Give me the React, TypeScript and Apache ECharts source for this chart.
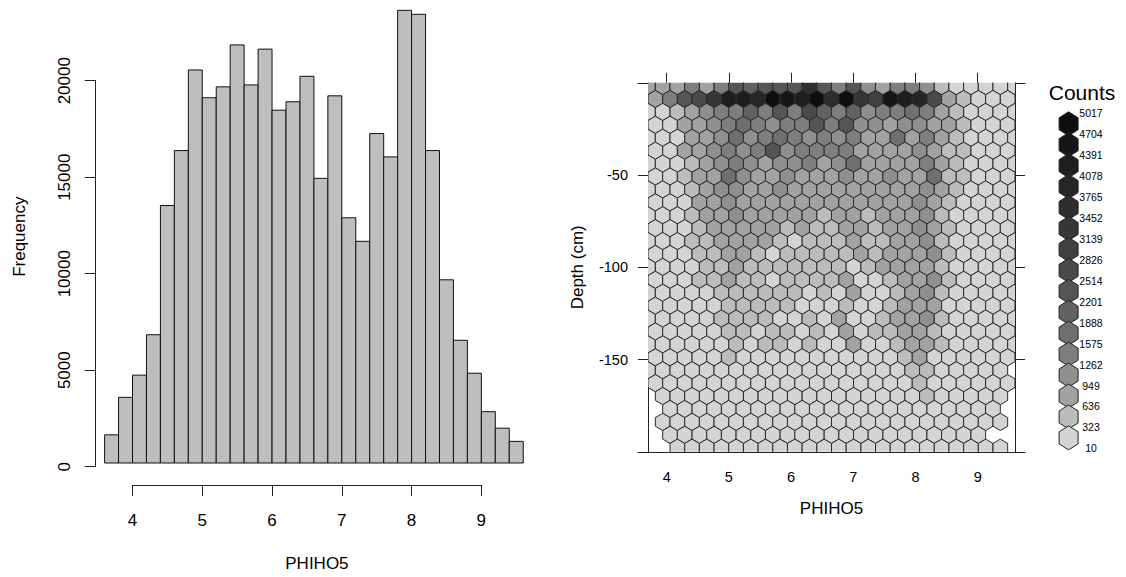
import React, { useEffect, useRef } from "react";
import * as echarts from "echarts";

// ---------- Histogram data ----------
const binStart = [3.6, 3.8, 4.0, 4.2, 4.4, 4.6, 4.8, 5.0, 5.2, 5.4, 5.6, 5.8, 6.0, 6.2, 6.4, 6.6, 6.8, 7.0, 7.2, 7.4, 7.6, 7.8, 8.0, 8.2, 8.4, 8.6, 8.8, 9.0, 9.2, 9.4];
const binWidth = 0.2;
const frequency = [1470, 3430, 4590, 6700, 13450, 16320, 20530, 19080, 19650, 21840, 19750, 21620, 18430, 18870, 20200, 14870, 19180, 12810, 11580, 17210, 15990, 23645, 23440, 16320, 9570, 6410, 4690, 2680, 1820, 1130];
const histXTicks = [4, 5, 6, 7, 8, 9];
const histYTicks = [0, 5000, 10000, 15000, 20000];

// ---------- Hexbin data ----------
const hexXTicks = [4, 5, 6, 7, 8, 9];
const hexYTicks = [-150, -100, -50];
const countBreaks = [10, 323, 636, 949, 1262, 1575, 1888, 2201, 2514, 2826, 3139, 3452, 3765, 4078, 4391, 4704, 5017];
const levelColors = ["#d4d4d4", "#bcbcbc", "#a2a2a2", "#8f8f8f", "#7e7e7e", "#6f6f6f", "#626262", "#555555", "#4a4a4a", "#404040", "#373737", "#2e2e2e", "#262626", "#1e1e1e", "#161616", "#0e0e0e"];
// hexbin lattice (x bounds / number of bins, row centres)
const xBounds = [3.7, 9.6];
const xBins = 25;
const rowY0 = -197.8;
const rowStep = 7.0;
// count level of each hexagon, rows listed from top (depth ~ -2) to bottom (depth ~ -198); -1 = empty
const hexLevels: number[][] = [
  [2, 2, 2, 4, 2, 4, 7, 6, 7, 7, 7, 11, 7, 4, 7, 3, 2, 4, 4, 3, 1, 0, 0, 0, 0, 0],
  [2, 4, 7, 8, 10, 13, 13, 12, 15, 14, 13, 15, 11, 15, 10, 9, 14, 13, 12, 8, 2, 1, 0, 0, 0],
  [0, 0, 1, 2, 3, 4, 4, 6, 4, 7, 4, 8, 6, 4, 6, 3, 4, 4, 5, 4, 2, 1, 0, 0, 0, 0],
  [0, 0, 2, 2, 3, 4, 5, 4, 3, 4, 4, 7, 4, 7, 3, 3, 2, 3, 3, 2, 2, 1, 0, 0, 0],
  [0, 0, 0, 2, 2, 3, 5, 3, 4, 5, 4, 3, 4, 3, 4, 2, 2, 5, 2, 4, 2, 1, 0, 0, 0, 0],
  [0, 0, 2, 2, 3, 4, 3, 4, 7, 3, 4, 4, 4, 4, 2, 2, 2, 2, 3, 2, 1, 1, 0, 0, 0],
  [0, 0, 0, 1, 2, 3, 4, 3, 2, 3, 3, 4, 2, 3, 5, 2, 2, 2, 2, 4, 2, 1, 0, 0, 0, 0],
  [0, 0, 1, 2, 2, 5, 3, 2, 2, 3, 2, 2, 2, 3, 2, 2, 3, 2, 2, 5, 1, 1, 0, 0, 0],
  [0, 0, 0, 1, 2, 3, 3, 2, 2, 3, 2, 2, 2, 2, 2, 2, 2, 2, 2, 3, 2, 1, 0, 0, 0, 0],
  [0, 0, 0, 2, 2, 3, 2, 2, 2, 2, 2, 2, 2, 2, 2, 2, 2, 2, 3, 2, 1, 0, 0, 0, 0],
  [0, 0, 0, 1, 2, 2, 3, 2, 2, 2, 2, 2, 1, 2, 2, 1, 2, 2, 2, 3, 1, 0, 0, 0, 0, 0],
  [0, 0, 0, 1, 2, 2, 2, 2, 2, 1, 2, 1, 1, 2, 2, 1, 2, 2, 3, 2, 1, 0, 0, 0, 0],
  [0, 0, 0, 1, 1, 2, 2, 2, 2, 1, 0, 1, 1, 1, 2, 1, 1, 2, 2, 3, 1, 0, 0, 0, 0, 0],
  [0, 0, 0, 1, 1, 2, 2, 1, 0, 1, 1, 1, 1, 1, 2, 1, 2, 2, 2, 3, 1, 0, 0, 0, 0],
  [0, 0, 0, 0, 1, 1, 2, 1, 1, 1, 1, 1, 1, 1, 0, 1, 2, 2, 2, 2, 1, 0, 0, 0, 0, 0],
  [0, 0, 0, 1, 1, 2, 1, 1, 0, 1, 1, 1, 1, 2, 0, 0, 1, 2, 2, 3, 1, 0, 0, 0, 0],
  [0, 0, 0, 0, 0, 1, 1, 1, 1, 1, 1, 0, 1, 0, 2, 0, 0, 1, 2, 3, 1, 0, 0, 0, 0, 0],
  [0, 0, 0, 0, 0, 1, 1, 1, 1, 1, 0, 0, 0, 1, 0, 0, 1, 2, 2, 2, 0, 0, 0, 0, 0],
  [0, 0, 0, 0, 0, 1, 1, 1, 1, 0, 0, 1, 0, 2, 0, 0, 1, 2, 2, 3, 1, 0, 0, 0, 0, 0],
  [0, 0, 0, 0, 0, 1, 1, 0, 1, 1, 0, 1, 0, 2, 0, 1, 1, 2, 2, 1, 0, 0, 0, 0, 0],
  [0, 0, 0, 0, 0, 0, 1, 0, 1, 1, 0, 1, 0, 0, 2, 0, 0, 1, 2, 2, 1, 0, 0, 0, 0, 0],
  [0, 0, 0, 0, 0, 1, 0, 0, 0, 0, 0, 0, 0, 0, 0, 0, 0, 1, 2, 0, 0, 0, 0, 0, 0],
  [0, 0, 0, 0, 0, 0, 0, 0, 0, 0, 0, 0, 0, 0, 0, 0, 0, 0, 1, 1, 0, 0, 0, 0, 0, -1],
  [0, 0, 0, 0, 0, 0, 0, 0, 0, 0, 0, 0, 0, 0, 0, 0, 0, 0, 1, 0, 0, 0, 0, 0, 0],
  [-1, 0, 0, 0, 0, 0, 0, 0, 0, 0, 0, 0, 0, 0, 0, 0, 0, 0, 0, 1, 0, 0, 0, 0, 0, -1],
  [-1, 0, 0, 0, 0, 0, 0, 0, 0, 0, 0, 0, 0, 0, 0, 0, 0, 0, 0, 0, 0, 0, 0, 0, -1],
  [-1, 0, 0, 0, 0, 0, 0, 0, 0, 0, 0, 0, 0, 0, 0, 0, 0, 0, 0, 0, 0, 0, 0, 0, 0, -1],
  [-1, 0, 0, 0, 0, 0, 0, 0, 0, 0, 0, 0, 0, 0, 0, 0, 0, 0, 0, 0, 0, 0, 0, -1, -1],
  [-1, -1, 0, 0, 0, 0, 0, 0, 0, 0, 0, 0, 0, 0, 0, 0, 0, 0, 0, 0, 0, 0, 0, 0, 0, -1],
];

const FONT = "'Liberation Sans', Arial, Helvetica, sans-serif";

export default function App() {
  const ref = useRef<HTMLDivElement>(null);

  useEffect(() => {
    document.body.style.margin = "0";
    if (!ref.current) return;
    const chart = echarts.init(ref.current, undefined, { renderer: "svg" });

    // histogram data
    const histData = binStart.map((s, i) => [s, s + binWidth, frequency[i]]);
    const maxFreq = Math.max(...frequency);

    // hexbin data
    const c3 = (xBounds[1] - xBounds[0]) / xBins;
    const nRows = hexLevels.length;
    const hexData: number[][] = [];
    hexLevels.forEach((row, k) => {
      const i = nRows - 1 - k;
      const off = i % 2 === 1 ? 0.5 : 0;
      const y = rowY0 + i * rowStep;
      row.forEach((lvl, j) => {
        if (lvl < 0) return;
        const x = xBounds[0] + (j + off) * c3;
        const count = Math.round((countBreaks[lvl] + countBreaks[lvl + 1]) / 2);
        hexData.push([x, y, count, lvl]);
      });
    });

    // left-panel scale
    const zeroY = 466.7;
    const pxPerCount = 386 / 20000;
    const barTop = zeroY - maxFreq * pxPerCount;
    const barLeft = 104.6;
    const pxPerUnit = 69.77;

    const axisLineStyle = { color: "#222", width: 1 };
    const txt = { color: "#000", fontFamily: FONT };

    // legend graphics
    const legendCx = 1068.6;
    const legendTop = 113.3;
    const legendStep = 20.94;
    const hw = 9.5;
    const hh = 12;
    const graphics: any[] = [];
    const nLev = levelColors.length;
    for (let b = 0; b < nLev; b++) {
      const lvl = nLev - 1 - b;
      const cy = legendTop + legendStep * (b + 0.5);
      graphics.push({
        type: "polygon",
        shape: {
          points: [
            [legendCx, cy - hh],
            [legendCx + hw, cy - hh / 2],
            [legendCx + hw, cy + hh / 2],
            [legendCx, cy + hh],
            [legendCx - hw, cy + hh / 2],
            [legendCx - hw, cy - hh / 2],
          ],
        },
        style: { fill: levelColors[lvl], stroke: "#222", lineWidth: 1 },
      });
    }
    for (let b = 0; b < countBreaks.length; b++) {
      graphics.push({
        type: "text",
        x: 1091,
        y: legendTop + legendStep * b,
        style: {
          text: String(countBreaks[countBreaks.length - 1 - b]),
          fill: "#000",
          font: `10.5px ${FONT}`,
          align: "center",
          verticalAlign: "middle",
        },
      });
    }
    graphics.push({
      type: "text",
      x: 1082,
      y: 92,
      style: { text: "Counts", fill: "#000", font: `21px ${FONT}`, align: "center", verticalAlign: "middle" },
    });

    const hidden = { show: false };
    const plain = (v: number) => String(v);

    chart.setOption({
      animation: false,
      backgroundColor: "#fff",
      grid: [
        { left: barLeft, top: barTop, width: 6 * pxPerUnit, height: maxFreq * pxPerCount },
        { left: 95.7, top: zeroY - 20000 * pxPerCount, width: 1, height: 20000 * pxPerCount },
        { left: barLeft + 0.4 * pxPerUnit, top: 475, width: 5 * pxPerUnit, height: 10 },
        { left: 648, top: 82.8, width: 367, height: 369 },
        { left: 638, top: 82.8, width: 387, height: 369 },
      ],
      xAxis: [
        {
          gridIndex: 0, type: "value", min: 3.6, max: 9.6,
          axisLine: hidden, axisTick: hidden, axisLabel: hidden, splitLine: hidden,
          name: "PHIHO5", nameLocation: "middle", nameGap: 92,
          nameTextStyle: { ...txt, fontSize: 17, padding: [0, 0, 0, 6] },
        },
        { gridIndex: 1, type: "value", show: false, min: 0, max: 1 },
        {
          gridIndex: 2, type: "value", min: 4, max: 9, interval: 1, position: "bottom",
          axisLine: { show: true, lineStyle: axisLineStyle },
          axisTick: { show: true, length: 11, lineStyle: axisLineStyle },
          axisLabel: { ...txt, fontSize: 17, margin: 27, customValues: histXTicks, formatter: plain },
          splitLine: hidden,
        },
        {
          gridIndex: 3, type: "value", min: xBounds[0], max: xBounds[1], position: "bottom",
          axisLine: hidden,
          axisTick: { show: true, length: 10, lineStyle: axisLineStyle, customValues: hexXTicks },
          axisLabel: { ...txt, fontSize: 14.5, margin: 18, customValues: hexXTicks, formatter: plain },
          splitLine: hidden,
          name: "PHIHO5", nameLocation: "middle", nameGap: 48,
          nameTextStyle: { ...txt, fontSize: 17 },
        },
        {
          gridIndex: 3, type: "value", min: xBounds[0], max: xBounds[1], position: "top",
          axisLine: hidden,
          axisTick: { show: true, length: 10, lineStyle: axisLineStyle, customValues: hexXTicks },
          axisLabel: hidden, splitLine: hidden,
        },
        {
          gridIndex: 4, type: "value", min: 0, max: 1, position: "bottom",
          axisLine: { show: true, lineStyle: axisLineStyle },
          axisTick: hidden, axisLabel: hidden, splitLine: hidden,
        },
        {
          gridIndex: 4, type: "value", min: 0, max: 1, position: "top",
          axisLine: { show: true, lineStyle: axisLineStyle },
          axisTick: hidden, axisLabel: hidden, splitLine: hidden,
        },
      ],
      yAxis: [
        {
          gridIndex: 0, type: "value", min: 0, max: maxFreq,
          axisLine: hidden, axisTick: hidden, axisLabel: hidden, splitLine: hidden,
          name: "Frequency", nameLocation: "middle", nameGap: 77,
          nameTextStyle: { ...txt, fontSize: 17 },
        },
        {
          gridIndex: 1, type: "value", min: 0, max: 20000, interval: 5000, position: "left",
          axisLine: { show: true, lineStyle: axisLineStyle },
          axisTick: { show: true, length: 11, lineStyle: axisLineStyle },
          axisLabel: { ...txt, fontSize: 17, margin: 23, rotate: 90, customValues: histYTicks, formatter: plain },
          splitLine: hidden,
        },
        { gridIndex: 2, type: "value", show: false, min: 0, max: 1 },
        {
          gridIndex: 3, type: "value", min: -200, max: 0, position: "left",
          axisLine: { show: true, lineStyle: axisLineStyle },
          axisTick: { show: true, length: 10, lineStyle: axisLineStyle, customValues: hexYTicks },
          axisLabel: { ...txt, fontSize: 14.5, margin: 20, customValues: hexYTicks, formatter: plain },
          splitLine: hidden,
          name: "Depth (cm)", nameLocation: "middle", nameGap: 62,
          nameTextStyle: { ...txt, fontSize: 17 },
        },
        {
          gridIndex: 3, type: "value", min: -200, max: 0, position: "right",
          axisLine: { show: true, lineStyle: axisLineStyle },
          axisTick: { show: true, length: 10, lineStyle: axisLineStyle, customValues: hexYTicks },
          axisLabel: hidden, splitLine: hidden,
        },
        { gridIndex: 4, type: "value", show: false, min: 0, max: 1 },
      ],
      series: [
        {
          type: "custom",
          xAxisIndex: 0,
          yAxisIndex: 0,
          clip: false,
          data: histData,
          encode: { x: [0, 1], y: 2 },
          renderItem: (_p: any, api: any) => {
            const a = api.coord([api.value(0), api.value(2)]);
            const b = api.coord([api.value(1), 0]);
            return {
              type: "rect",
              shape: { x: a[0], y: a[1], width: b[0] - a[0], height: b[1] - a[1] },
              style: { fill: "#bebebe", stroke: "#111", lineWidth: 1 },
            };
          },
        },
        {
          type: "custom",
          xAxisIndex: 3,
          yAxisIndex: 3,
          clip: true,
          data: hexData,
          encode: { x: 0, y: 1 },
          renderItem: (_p: any, api: any) => {
            const c = api.coord([api.value(0), api.value(1)]);
            const s = api.size([c3, rowStep]);
            const w = s[0] / 2;
            const h = s[1];
            return {
              type: "polygon",
              shape: {
                points: [
                  [c[0], c[1] - (2 * h) / 3],
                  [c[0] + w, c[1] - h / 3],
                  [c[0] + w, c[1] + h / 3],
                  [c[0], c[1] + (2 * h) / 3],
                  [c[0] - w, c[1] + h / 3],
                  [c[0] - w, c[1] - h / 3],
                ],
              },
              style: { fill: levelColors[api.value(3)], stroke: "#2a2a2a", lineWidth: 1 },
            };
          },
        },
      ],
      graphic: graphics,
    });

    return () => chart.dispose();
  }, []);

  return <div ref={ref} style={{ position: "absolute", left: 0, top: 0, width: 1126, height: 577 }} />;
}
